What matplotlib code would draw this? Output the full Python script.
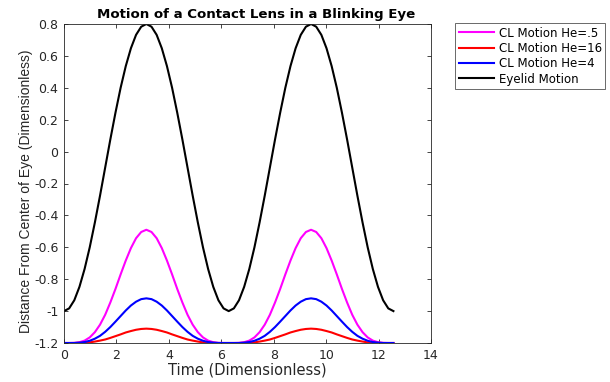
import numpy as np
import matplotlib
matplotlib.use("Agg")
import matplotlib.pyplot as plt

plt.rcParams['font.family'] = ['DejaVu Sans']

# time samples (0 .. 4*pi in 64 steps)
t = np.linspace(0, 4 * np.pi, 65)

# one period (first 32 samples), repeated twice, plus the final point
half_eyelid = [-1.000, -0.983, -0.932, -0.848, -0.736, -0.600, -0.444, -0.276,
               -0.100, 0.076, 0.244, 0.400, 0.536, 0.648, 0.732, 0.783,
               0.800, 0.783, 0.732, 0.648, 0.536, 0.400, 0.244, 0.076,
               -0.100, -0.276, -0.444, -0.600, -0.736, -0.848, -0.932, -0.983]
eyelid = half_eyelid + half_eyelid + [-1.000]

half_he05 = [-1.200, -1.200, -1.199, -1.195, -1.185, -1.165, -1.132, -1.085,
             -1.023, -0.946, -0.861, -0.770, -0.683, -0.605, -0.543, -0.504,
             -0.490, -0.504, -0.543, -0.605, -0.683, -0.770, -0.861, -0.946,
             -1.023, -1.085, -1.132, -1.165, -1.185, -1.195, -1.199, -1.200]
cl_he05 = half_he05 + half_he05 + [-1.200]

half_he4 = [-1.200, -1.200, -1.200, -1.198, -1.194, -1.186, -1.173, -1.155,
            -1.130, -1.100, -1.066, -1.031, -0.996, -0.965, -0.941, -0.925,
            -0.920, -0.925, -0.941, -0.965, -0.996, -1.031, -1.066, -1.100,
            -1.130, -1.155, -1.173, -1.186, -1.194, -1.198, -1.200, -1.200]
cl_he4 = half_he4 + half_he4 + [-1.200]

half_he16 = [-1.200, -1.200, -1.200, -1.199, -1.198, -1.196, -1.191, -1.185,
             -1.178, -1.168, -1.157, -1.146, -1.134, -1.125, -1.117, -1.112,
             -1.110, -1.112, -1.117, -1.125, -1.134, -1.146, -1.157, -1.168,
             -1.178, -1.185, -1.191, -1.196, -1.198, -1.199, -1.200, -1.200]
cl_he16 = half_he16 + half_he16 + [-1.200]

labels = ['CL Motion He=.5', 'CL Motion He=16', 'CL Motion He=4', 'Eyelid Motion']
xticks = [0, 2, 4, 6, 8, 10, 12, 14]
yticks = [-1.2, -1, -0.8, -0.6, -0.4, -0.2, 0, 0.2, 0.4, 0.6, 0.8]
yticklabels = ['-1.2', '-1', '-0.8', '-0.6', '-0.4', '-0.2', '0', '0.2', '0.4', '0.6', '0.8']

fig = plt.figure(figsize=(6.1, 3.82), dpi=100)
ax = fig.add_axes([64/610, 1 - 343/382, (431-64)/610, (343-24)/382])

ax.plot(t, cl_he05, color='#ff00ff', lw=1.5, label=labels[0])
ax.plot(t, cl_he16, color='#ff0000', lw=1.5, label=labels[1])
ax.plot(t, cl_he4, color='#0000ff', lw=1.5, label=labels[2])
ax.plot(t, eyelid, color='#000000', lw=1.5, label=labels[3])

ax.set_xlim(0, 14)
ax.set_ylim(-1.2, 0.8)
ax.set_xticks(xticks)
ax.set_xticklabels([str(v) for v in xticks])
ax.set_yticks(yticks)
ax.set_yticklabels(yticklabels)
ax.tick_params(direction='in', top=True, right=True, labelsize=9, length=3,
               colors='#262626', width=0.6, pad=4)
for s in ax.spines.values():
    s.set_color('#262626')
    s.set_linewidth(0.6)

ax.set_title('Motion of a Contact Lens in a Blinking Eye', fontsize=9.6,
             fontweight='bold', pad=4, x=0.523)
ax.set_xlabel('Time (Dimensionless)', fontsize=10.5, color='#262626', labelpad=1)
ax.set_ylabel('Distance From Center of Eye (Dimensionless)', fontsize=10,
              color='#262626', family='Liberation Sans')
ax.yaxis.set_label_coords(-0.085, 0.476)

leg = fig.legend(loc='upper left', bbox_to_anchor=(455/610, 1 - 23/382),
                 fontsize=8.5, frameon=True, fancybox=False, edgecolor='#262626',
                 handlelength=3.0, borderpad=0.3, labelspacing=0.2,
                 handletextpad=0.4, borderaxespad=0)
leg.get_frame().set_linewidth(0.6)

fig.savefig('out.png', dpi=100)
